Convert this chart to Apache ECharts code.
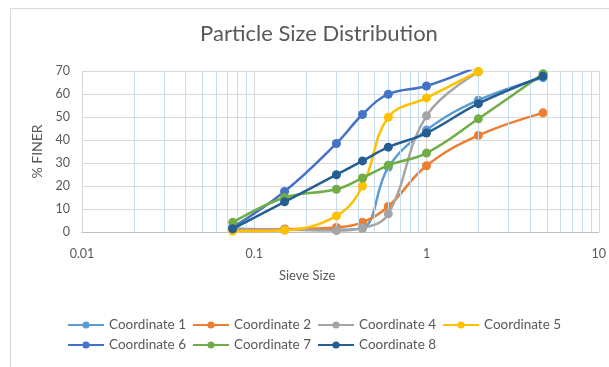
<!DOCTYPE html>
<html>
<head>
<meta charset="utf-8">
<script src="https://cdn.jsdelivr.net/npm/echarts@6/dist/echarts.min.js"></script>
<style>
html,body{margin:0;padding:0;background:#fff;}
#c{width:609px;height:367px;}
</style>
</head>
<body>
<div id="c"></div>
<script>
const sieveSizes = [0.075, 0.15, 0.3, 0.425, 0.6, 1.0, 2.0, 4.75];
const seriesNames = ['Coordinate 1','Coordinate 2','Coordinate 4','Coordinate 5','Coordinate 6','Coordinate 7','Coordinate 8'];
const coord1 = [1.5, 1.0, 1.0, 1.7, 28.1, 44.3, 57.3, 67.1];
const coord2 = [1.2, 1.3, 2.0, 4.2, 11.1, 28.8, 42.0, 51.8];
const coord4 = [1.0, 1.0, 0.6, 1.7, 7.9, 50.5, 69.6, null];
const coord5 = [0.4, 0.8, 7.0, 20.0, 49.9, 58.3, 69.8, null];
const coord6 = [2.0, 17.6, 38.5, 51.1, 59.9, 63.5, 72.0, null];
const coord7 = [4.2, 15.0, 18.6, 23.5, 29.0, 34.3, 49.2, 68.8];
const coord8 = [1.4, 13.1, 24.9, 30.9, 36.9, 43.0, 55.8, 67.7];
const colors = ['#5B9BD5','#ED7D31','#A5A5A5','#FFC000','#4472C4','#70AD47','#255E91'];
const xTickLabels = ['0.01','0.1','1','10'];
const minorGrid = [0.02,0.03,0.04,0.05,0.06,0.07,0.08,0.09,0.2,0.3,0.4,0.5,0.6,0.7,0.8,0.9,2,3,4,5,6,7,8,9];

const allValues = [coord1, coord2, coord4, coord5, coord6, coord7, coord8];
const FONT = 'Lato';

const chart = echarts.init(document.getElementById('c'), null, {renderer:'canvas'});
const series = allValues.map((vals, i) => ({
  name: seriesNames[i],
  type: 'line',
  smooth: 0.4,
  symbol: 'circle',
  symbolSize: 9,
  showSymbol: true,
  clip: true,
  color: colors[i],
  lineStyle: {width: 2.5, color: colors[i]},
  itemStyle: {color: colors[i]},
  z: 3 + i,
  data: sieveSizes.map((s, j) => vals[j] == null ? null : [s, vals[j]]).filter(d => d)
}));
series.push({
  name: 'minor',
  type: 'line',
  data: [],
  silent: true,
  z: 1,
  markLine: {
    silent: true,
    symbol: ['none','none'],
    label: {show: false},
    lineStyle: {color: '#C9DDF0', width: 1, type: 'solid'},
    emphasis: {disabled: true},
    animation: false,
    data: minorGrid.map(v => ({xAxis: v}))
  }
});

chart.setOption({
  animation: false,
  backgroundColor: '#fff',
  textStyle: {fontFamily: FONT},
  title: {
    text: 'Particle Size Distribution',
    left: 314, top: 18, textAlign: 'center',
    textStyle: {fontFamily: FONT, fontSize: 22, fontWeight: 'normal', color: '#595959'}
  },
  graphic: [
    {type: 'rect', left: 8, top: 6, shape: {width: 640, height: 420},
     style: {fill: 'none', stroke: '#D9D9D9', lineWidth: 1}, z: -10, silent: true},
    {type: 'text', left: 279, top: 269,
     style: {text: 'Sieve Size', fill: '#595959', font: '13px ' + FONT}}
  ],
  grid: {left: 82, right: 7, top: 71, bottom: 135, containLabel: false},
  legend: {
    data: seriesNames,
    left: 62, top: 313, width: 530,
    itemWidth: 36, itemHeight: 9, itemGap: 6,
    textStyle: {fontFamily: FONT, fontSize: 13.5, color: '#595959'}
  },
  xAxis: {
    type: 'log', logBase: 10, min: 0.01, max: 10,
    axisLine: {show: true, lineStyle: {color: '#BFBFBF'}},
    axisTick: {show: false},
    axisLabel: {color: '#595959', fontSize: 12.5, fontFamily: FONT, margin: 15,
      formatter: v => xTickLabels.find(t => Math.abs(parseFloat(t) - v) < 1e-9) || ''},
    splitLine: {show: true, lineStyle: {color: '#D9D9D9'}},
    minorTick: {show: false},
    minorSplitLine: {show: false}
  },
  yAxis: {
    type: 'value', min: 0, max: 70, interval: 10,
    name: '% FINER', nameLocation: 'middle', nameGap: 36, nameRotate: 90,
    nameTextStyle: {color: '#595959', fontSize: 14, fontFamily: FONT},
    axisLine: {show: false},
    axisTick: {show: false},
    axisLabel: {color: '#595959', fontSize: 12.5, fontFamily: FONT, margin: 12},
    splitLine: {show: true, lineStyle: {color: '#D9D9D9'}}
  },
  series: series
});
</script>
</body>
</html>
